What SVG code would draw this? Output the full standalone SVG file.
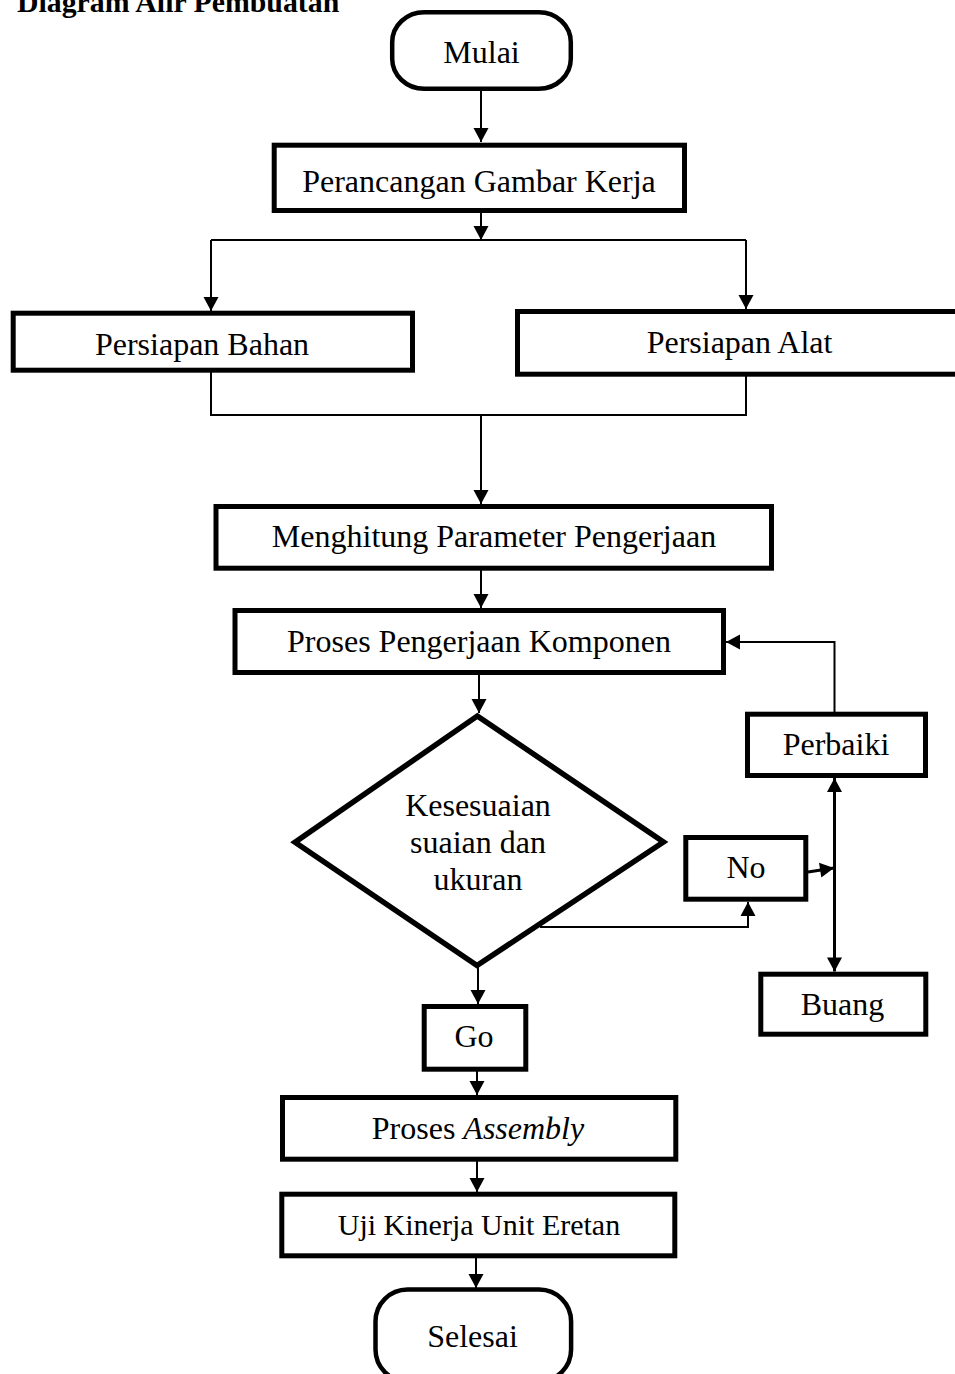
<svg xmlns="http://www.w3.org/2000/svg" width="955" height="1374" viewBox="0 0 955 1374">
<style>
  .box{fill:#fff;stroke:#000;stroke-width:5}
  .term{fill:#fff;stroke:#000;stroke-width:4.5}
  .dia{fill:#fff;stroke:#000;stroke-width:5.5;stroke-linejoin:miter}
  .t{font-family:"Liberation Serif","Times New Roman",serif;font-size:32px;fill:#000;text-anchor:middle}
  .title{font-family:"Liberation Serif","Times New Roman",serif;font-size:29.8px;font-weight:bold;fill:#000}
  .c{fill:none;stroke:#000;stroke-width:2}
  .a{marker-end:url(#ah)}
</style>
<defs>
  <marker id="ah" markerUnits="userSpaceOnUse" markerWidth="16" markerHeight="16" viewBox="0 0 16 16" refX="15" refY="8" orient="auto-start-reverse">
    <path d="M1,0.5 L15,8 L1,15.5 z" fill="#000"/>
  </marker>
</defs>

<text class="title" x="17" y="12">Diagram Alir Pembuatan</text>

<g id="connectors">
  <line class="c a" x1="481" y1="90" x2="481" y2="142"/>
  <line class="c a" x1="481" y1="213" x2="481" y2="240"/>
  <polyline class="c" points="211,240 746,240"/>
  <line class="c a" x1="211" y1="240" x2="211" y2="311"/>
  <line class="c a" x1="746" y1="240" x2="746" y2="309"/>
  <polyline class="c" points="211,372 211,415 746,415 746,376"/>
  <line class="c a" x1="481" y1="415" x2="481" y2="504"/>
  <line class="c a" x1="481" y1="566" x2="481" y2="608"/>
  <line class="c a" x1="479" y1="675" x2="479" y2="713"/>
  <line class="c a" x1="478" y1="966" x2="478" y2="1004"/>
  <polyline class="c a" points="540,927 748,927 748,902"/>
  <line class="c a" x1="808" y1="872" x2="834" y2="868" style="stroke-width:3"/>
  <line class="c a" x1="834.5" y1="778" x2="834.5" y2="971.5" style="stroke-width:3;marker-start:url(#ah)"/>
  <polyline class="c a" points="834.5,712 834.5,642 726,642"/>
  <line class="c a" x1="477" y1="1071" x2="477" y2="1095"/>
  <line class="c a" x1="477" y1="1161" x2="477" y2="1192"/>
  <line class="c a" x1="476" y1="1258" x2="476" y2="1288"/>
</g>

<g id="mulai">
  <rect class="term" x="392.2" y="12.2" width="178.6" height="76.6" rx="32" ry="30"/>
  <text class="t" x="481.5" y="63">Mulai</text>
</g>
<g id="perancangan">
  <rect class="box" x="274.2" y="145.2" width="410.3" height="65.3"/>
  <text class="t" x="479" y="192">Perancangan Gambar Kerja</text>
</g>
<g id="bahan">
  <rect class="box" x="13.2" y="313.2" width="399.3" height="57"/>
  <text class="t" x="202" y="355">Persiapan Bahan</text>
</g>
<g id="alat">
  <rect class="box" x="517.5" y="311.5" width="450" height="62.7"/>
  <text class="t" x="739.5" y="353">Persiapan Alat</text>
</g>
<g id="menghitung">
  <rect class="box" x="216" y="506.5" width="555.5" height="61.7"/>
  <text class="t" x="494" y="547">Menghitung Parameter Pengerjaan</text>
</g>
<g id="proses">
  <rect class="box" x="235" y="610.5" width="488.5" height="62"/>
  <text class="t" x="479" y="652">Proses Pengerjaan Komponen</text>
</g>
<g id="keputusan">
  <polygon class="dia" points="477.3,716 663.5,842 477,965.5 295,842.3"/>
  <text class="t" x="478" y="816">Kesesuaian</text>
  <text class="t" x="478" y="853">suaian dan</text>
  <text class="t" x="478" y="890">ukuran</text>
</g>
<g id="perbaiki">
  <rect class="box" x="747.5" y="714.2" width="178" height="61.3"/>
  <text class="t" x="836" y="755">Perbaiki</text>
</g>
<g id="no">
  <rect class="box" x="685.8" y="837.5" width="120" height="61.7"/>
  <text class="t" x="746" y="878">No</text>
</g>
<g id="buang">
  <rect class="box" x="760.8" y="974.2" width="165" height="60"/>
  <text class="t" x="842.5" y="1015">Buang</text>
</g>
<g id="go">
  <rect class="box" x="424.2" y="1006.5" width="101.6" height="62.7"/>
  <text class="t" x="474" y="1047">Go</text>
</g>
<g id="assembly">
  <rect class="box" x="282.5" y="1097.5" width="393.3" height="61.7"/>
  <text class="t" x="478" y="1139">Proses <tspan font-style="italic">Assembly</tspan></text>
</g>
<g id="uji">
  <rect class="box" x="281.8" y="1194.2" width="393" height="61.6"/>
  <text class="t" x="479" y="1235" style="font-size:30px">Uji Kinerja Unit Eretan</text>
</g>
<g id="selesai">
  <rect class="term" x="375.5" y="1289.5" width="195.6" height="92" rx="32" ry="32"/>
  <text class="t" x="472.5" y="1347">Selesai</text>
</g>
</svg>
